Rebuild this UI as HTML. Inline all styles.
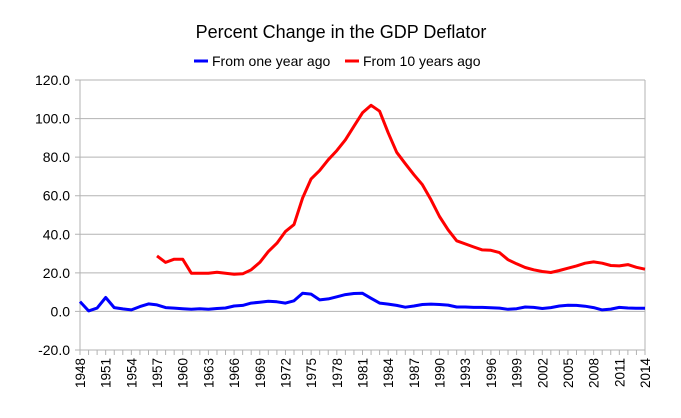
<!DOCTYPE html>
<html><head><meta charset="utf-8"><style>
body{margin:0;background:#fff;}
svg{display:block;font-family:"Liberation Sans",sans-serif;}
</style></head><body>
<svg id="chart" width="681" height="418">
<text x="341" y="38" text-anchor="middle" font-size="18" fill="#000">Percent Change in the GDP Deflator</text>
<g>
<g><line x1="194" y1="61" x2="208" y2="61" stroke="#0000ff" stroke-width="3"/><text x="212" y="66" font-size="14">From one year ago</text></g>
<g><line x1="345" y1="61" x2="359" y2="61" stroke="#ff0000" stroke-width="3"/><text x="363" y="66" font-size="14">From 10 years ago</text></g>
</g>
<g id="grid"></g>
<g id="yaxis"></g>
<g id="xaxis"></g>
<g id="series"></g>
</svg>
<script>
const startYear = 1948;
const endYear = 2014;
const yTicks = [-20,0,20,40,60,80,100,120];
const oneYear = [5.1,0.3,1.7,7.2,2.0,1.3,0.8,2.5,3.9,3.4,2.0,1.7,1.4,1.1,1.4,1.1,1.5,1.8,2.8,3.1,4.3,4.8,5.3,5.0,4.3,5.5,9.4,9.0,6.0,6.5,7.6,8.7,9.3,9.4,6.8,4.3,3.8,3.1,2.2,2.8,3.6,3.8,3.6,3.3,2.3,2.3,2.1,2.1,1.9,1.7,1.1,1.4,2.3,2.1,1.5,2.0,2.8,3.2,3.1,2.7,2.0,0.8,1.2,2.1,1.8,1.6,1.6];
const tenYearStart = 1957;
const tenYears = [28.8,25.4,27.1,27.1,19.8,19.8,19.8,20.3,19.8,19.3,19.5,21.6,25.4,31.0,35.4,41.5,45.0,58.8,68.7,73.1,78.7,83.4,89.0,96.0,103.0,106.9,103.8,92.6,82.5,76.6,70.9,65.7,57.9,49.2,42.3,36.6,35.0,33.4,31.9,31.7,30.5,26.8,24.7,22.8,21.6,20.7,20.2,21.2,22.4,23.6,25.0,25.7,25.0,23.8,23.6,24.3,22.9,21.9];

const X0=80,X1=645,Y0=80,Y1=350;
const NS="http://www.w3.org/2000/svg";
function xs(yr){return X0+(yr-startYear)*(X1-X0)/(endYear-startYear);}
function ys(v){return Y1-(v-(-20))*(Y1-Y0)/140;}
function mk(tag,attrs,parent){const e=document.createElementNS(NS,tag);for(const k in attrs)e.setAttribute(k,attrs[k]);parent.appendChild(e);return e;}
const grid=document.getElementById('grid'),ya=document.getElementById('yaxis'),xa=document.getElementById('xaxis'),ser=document.getElementById('series');
yTicks.forEach(v=>{
  const l=mk('line',{x1:X0-5,x2:X1,y1:ys(v),y2:ys(v),stroke:'#b3b3b3','stroke-width':1},grid);
  
  
  const t=mk('text',{x:70,y:ys(v)+5,'text-anchor':'end','font-size':14,fill:'#000'},ya);
  t.textContent=v.toFixed(1);
  
  
});
mk('line',{x1:X0,x2:X0,y1:Y0,y2:Y1+5,stroke:'#b3b3b3'},ya);
mk('line',{x1:X1,x2:X1,y1:Y0,y2:Y1+5,stroke:'#b3b3b3'},ya);
for(let yr=startYear;yr<=endYear;yr++){
  mk('line',{x1:xs(yr),x2:xs(yr),y1:Y1,y2:Y1+5,stroke:'#b3b3b3'},xa);
  if((yr-startYear)%3===0){
    const t=mk('text',{x:0,y:0,'text-anchor':'end','font-size':13.5,transform:`translate(${xs(yr)+5},${Y1+8}) rotate(-90)`},xa);
    t.textContent=yr;
    
    
  }
}
function line(vals,start,color,name){
  const p=vals.map((v,i)=>xs(start+i).toFixed(1)+','+ys(v).toFixed(1)).join(' ');
  const pl=mk('polyline',{points:p,fill:'none',stroke:color,'stroke-width':3,'stroke-linejoin':'round'},ser);
  
  
}
line(tenYears,tenYearStart,'#ff0000','series-10-years');
line(oneYear,startYear,'#0000ff','series-one-year');
</script>
</body></html>
